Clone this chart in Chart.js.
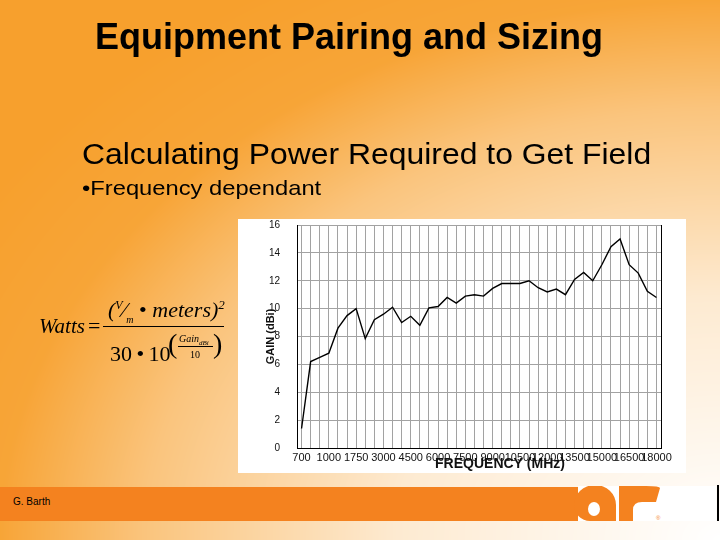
<!DOCTYPE html>
<html>
<head>
<meta charset="utf-8">
<script src="https://cdn.jsdelivr.net/npm/chart.js@4"></script>
<style>
body { margin: 0; }
#slide { position: relative; width: 720px; height: 540px; overflow: hidden; font-family: "Liberation Sans", Arial, sans-serif; color: #000; }
#bg { position: absolute; left: 0; top: 0; }
.txt { position: absolute; white-space: nowrap; line-height: 1; transform-origin: left top; }
.f { position: absolute; white-space: nowrap; line-height: 1; font-family: "Liberation Serif", "Times New Roman", serif; font-size: 22px; }
.i { font-style: italic; }
#chartBox { position: absolute; left: 238px; top: 219px; width: 448px; height: 254px; background: #fff; }
#band { position: absolute; left: 0; top: 487px; width: 578px; height: 34px; background: #f4821f; }
#logoBox { position: absolute; left: 578px; top: 486px; width: 138px; height: 35px; background: #fff; }
#logo { position: absolute; left: 560px; top: 480px; }
</style>
</head>
<body>
<div id="slide">
  <canvas id="bg" width="720" height="540"></canvas>

  <div class="txt" style="left:95px; top:19px; font-size:36px; font-weight:bold;">Equipment Pairing and Sizing</div>
  <div class="txt" style="left:82px; top:140px; font-size:29px; transform:scaleX(1.1);">Calculating Power Required to Get Field</div>
  <div class="txt" style="left:82px; top:177px; font-size:21px; transform:scaleX(1.13);">•Frequency dependant</div>

  <!-- formula -->
  <div class="f i" style="left:39px; top:316px; font-size:21px;">Watts</div>
  <div class="f" style="left:88px; top:315px;">=</div>
  <div class="f i" style="left:108px; top:298px;">(<sup style="font-size:12px;">V</sup>&#8260;<sub style="font-size:10px;">m</sub> <span style="font-style:normal">•</span> meters)<sup style="font-size:13px;">2</sup></div>
  <div style="position:absolute; left:103px; top:326px; width:121px; height:1px; background:#000;"></div>
  <div class="f" style="left:110px; top:343px;">30&#8201;•&#8201;10</div>
  <div class="f" style="left:168px; top:330px; font-size:28px;">(</div>
  <div class="f i" style="left:179px; top:334px; font-size:10px;">Gain<sub style="font-size:7px;">dBi</sub></div>
  <div style="position:absolute; left:178px; top:346px; width:35px; height:1px; background:#000;"></div>
  <div class="f" style="left:190px; top:350px; font-size:10px;">10</div>
  <div class="f" style="left:213px; top:330px; font-size:28px;">)</div>

  <div id="chartBox"><canvas id="gainChart"></canvas></div>

  <div id="band"></div>
  <div class="txt" style="left:13px; top:497px; font-size:10px;">G. Barth</div>
  <div id="logoBox"></div>
  <svg id="logo" width="160" height="45" viewBox="0 0 160 45">
    <defs><clipPath id="lc"><rect x="0" y="6" width="160" height="35"/></clipPath></defs>
    <g fill="#f4821f" clip-path="url(#lc)">
      <path fill-rule="evenodd" d="M14 25 A21 20 0 1 1 56 25 L56 41 L30 41 A16 16 0 0 1 14 25 Z M28 29 A6 7 0 1 0 40 29 A6 7 0 1 0 28 29 Z"/>
      <path d="M59 41 L59 6 L86 6 Q100 6 100 8 L96 22 L82 22 Q73 22 73 30 L73 41 Z"/>
    </g>
    <text x="96" y="40" font-size="6" fill="#f4821f" font-family="Liberation Sans">®</text>
  </svg>
  <div style="position:absolute; left:717px; top:485px; width:2px; height:36px; background:#000;"></div>
</div>

<script>
// x axis: one point per grid line, labelled every third
const tickLabels = ['700', '1000', '1750', '3000', '4500', '6000', '7500', '9000', '10500', '12000', '13500', '15000', '16500', '18000'];
// gain in dBi
const gain = [1.4, 6.2, 6.5, 6.8, 8.6, 9.5, 10.0, 7.85, 9.2, 9.6,
              10.1, 9.0, 9.45, 8.8, 10.05, 10.15, 10.8, 10.4, 10.9, 11.0,
              10.9, 11.45, 11.8, 11.8, 11.8, 12.0, 11.5, 11.2, 11.4, 11.0,
              12.1, 12.6, 12.0, 13.15, 14.45, 15.0, 13.15, 12.55, 11.25, 10.8];
const yMin = 0;
const yMax = 16;

// slide background, orange fading to white towards the bottom-right corner
function fade(t) {
    const pts = [[0, 0], [0.45, 0.22], [0.8, 0.62], [1, 0.95], [1.2, 1]];
    for (let i = 1; i < pts.length; i++) {
        if (t <= pts[i][0]) {
            const a = pts[i - 1], b = pts[i];
            return a[1] + (b[1] - a[1]) * (t - a[0]) / (b[0] - a[0]);
        }
    }
    return 1;
}

function drawBackground() {
    const c = document.getElementById('bg');
    const ctx = c.getContext('2d');
    const img = ctx.createImageData(720, 540);
    const orange = [247, 160, 45];
    for (let y = 0; y < 540; y++) {
        for (let x = 0; x < 720; x++) {
            const dx = (720 - x) / 720, dy = (540 - y) / 540;
            const f = fade(Math.sqrt(dx * dx + dy * dy));
            const k = (y * 720 + x) * 4;
            img.data[k] = 255 + (orange[0] - 255) * f;
            img.data[k + 1] = 255 + (orange[1] - 255) * f;
            img.data[k + 2] = 255 + (orange[2] - 255) * f;
            img.data[k + 3] = 255;
        }
    }
    ctx.putImageData(img, 0, 0);
}

const rightFrame = {
    id: 'rightFrame',
    afterDraw(chart) {
        const { ctx, chartArea } = chart;
        ctx.save();
        ctx.strokeStyle = '#000';
        ctx.lineWidth = 1;
        ctx.beginPath();
        ctx.moveTo(Math.round(chartArea.right) + 0.5, chartArea.top);
        ctx.lineTo(Math.round(chartArea.right) + 0.5, chartArea.bottom);
        ctx.stroke();
        ctx.restore();
    }
};

function drawChart() {
    Chart.defaults.font.family = '"Liberation Sans", Arial, sans-serif';
    Chart.defaults.color = '#111';
    const labels = gain.map((_, i) => (i % 3 === 0 ? tickLabels[i / 3] : ''));

    new Chart(document.getElementById('gainChart').getContext('2d'), {
        type: 'line',
        data: {
            labels: labels,
            datasets: [{
                data: gain,
                borderColor: '#000',
                borderWidth: 1.4,
                pointRadius: 0,
                tension: 0,
                fill: false
            }]
        },
        options: {
            responsive: true,
            maintainAspectRatio: false,
            animation: false,
            layout: { padding: { left: 26, right: 25, top: 0, bottom: 0 } },
            plugins: { legend: { display: false }, tooltip: { enabled: false } },
            scales: {
                x: {
                    offset: true,
                    afterFit: (scale) => { scale.height = 25; },
                    grid: { color: '#a2a2a2', lineWidth: 1, drawTicks: false },
                    border: { color: '#000', width: 1 },
                    ticks: { autoSkip: false, maxRotation: 0, minRotation: 0, padding: 3, font: { size: 11 } },
                    title: {
                        display: true,
                        text: '\u2003\u2003\u2003FREQUENCY (MHz)',
                        font: { size: 14, weight: 'bold' },
                        padding: { top: 0, bottom: 0 }
                    }
                },
                y: {
                    min: yMin,
                    max: yMax,
                    afterFit: (scale) => {
                        scale.width = 33;
                        scale.paddingTop = 6;
                        scale.paddingBottom = 6;
                    },
                    grid: {
                        color: (c) => (c.tick && c.tick.value % 2 ? 'rgba(0,0,0,0)' : '#a2a2a2'),
                        tickColor: (c) => (c.tick && c.tick.value % 2 ? '#555' : 'rgba(0,0,0,0)'),
                        tickLength: 4
                    },
                    border: { color: '#000', width: 1 },
                    ticks: {
                        stepSize: 1,
                        padding: 13,
                        font: { size: 10 },
                        callback: (v) => (v % 2 ? '' : v)
                    },
                    title: { display: true, text: 'GAIN (dBi)', font: { size: 11, weight: 'bold' }, padding: { top: 0, bottom: 0 } }
                }
            }
        },
        plugins: [rightFrame]
    });
}

window.onload = function () {
    drawBackground();
    drawChart();
};
</script>
</body>
</html>
